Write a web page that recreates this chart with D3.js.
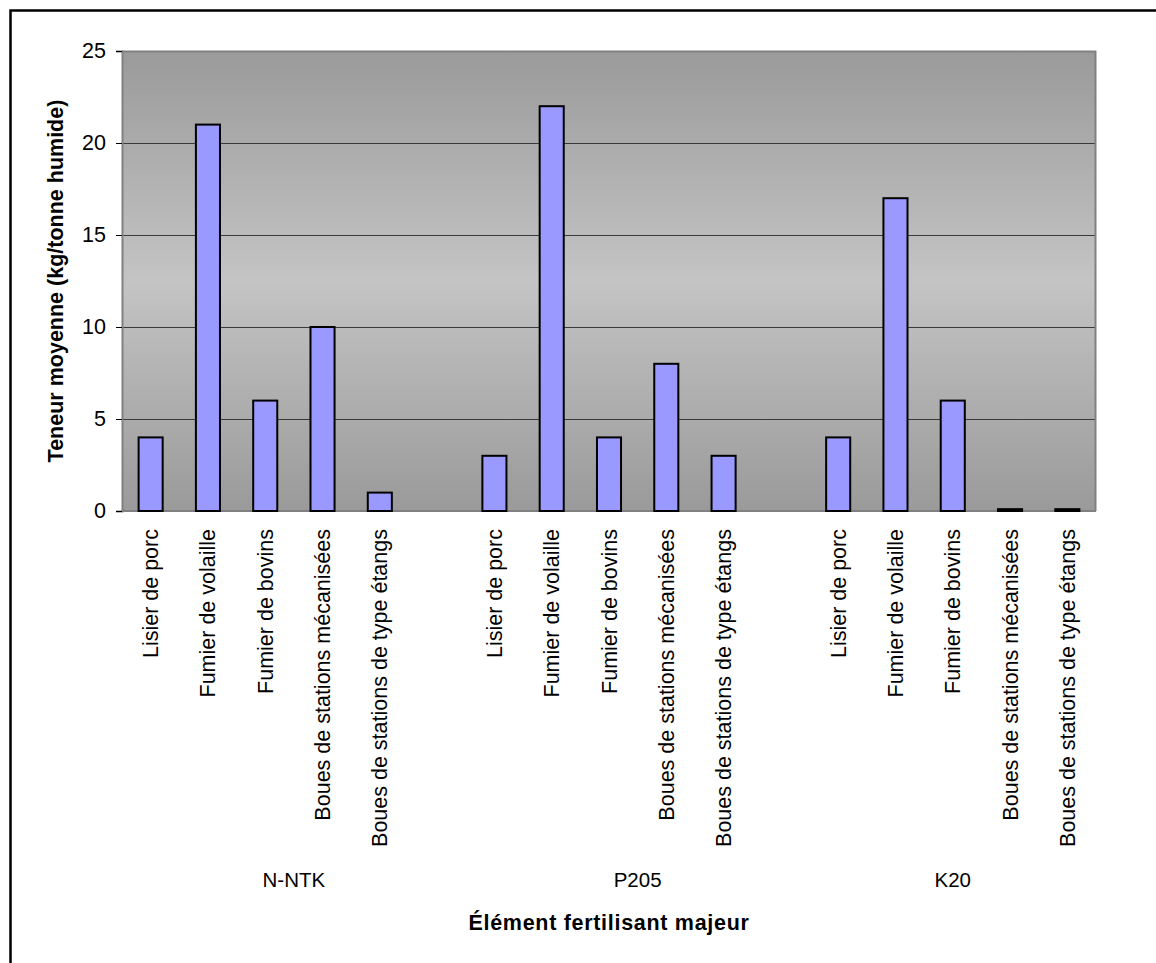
<!DOCTYPE html>
<html>
<head>
<meta charset="utf-8">
<script src="https://cdn.jsdelivr.net/npm/d3@7"></script>
<style>
  html, body { margin: 0; padding: 0; background: #fff; }
  svg { display: block; }
  text { font-family: Arial, "Liberation Sans", sans-serif; fill: #000; }
</style>
</head>
<body>
<svg id="chart" width="1156" height="963"></svg>
<script>
// Fertiliser groups and the sources within each group
const groups = ["N-NTK", "P205", "K20"];
const sources = [
  "Lisier de porc",
  "Fumier de volaille",
  "Fumier de bovins",
  "Boues de stations mécanisées",
  "Boues de stations de type étangs"
];
// Mean content (kg / wet tonne), one array per group, in source order
const valuesNNTK = [4, 21, 6, 10, 1];
const valuesP205 = [3, 22, 4, 8, 3];
const valuesK20  = [4, 17, 6, 0.1, 0.1];
const yTicks = [0, 5, 10, 15, 20, 25];

const yTitle = "Teneur moyenne (kg/tonne humide)";
const xTitle = "Élément fertilisant majeur";

const groupValues = [valuesNNTK, valuesP205, valuesK20];

// Build the slot list: five sources per group, with a blank slot between groups
const slots = [];
const rows = [];
groups.forEach((g, gi) => {
  sources.forEach((s, si) => {
    const key = g + "|" + s;
    slots.push(key);
    rows.push({ key, group: g, source: s, value: groupValues[gi][si] });
  });
  if (gi < groups.length - 1) slots.push(g + "|gap");
});

const svg = d3.select("#chart");
const W = 1156, H = 963;
const plot = { left: 122, right: 1096, top: 51, bottom: 511 };
const FONT = "21.5px";

// Outer frame
svg.append("rect")
  .attr("x", 10.5).attr("y", 10.5)
  .attr("width", W + 10).attr("height", H + 10)
  .attr("fill", "#fff").attr("stroke", "#000").attr("stroke-width", 2.5);

const x = d3.scaleBand().domain(slots).range([plot.left, plot.right]).padding(0);
const y = d3.scaleLinear().domain([0, 25]).range([plot.bottom, plot.top]);

// Plot-area gradient: darker at top and bottom, lighter in the middle
const defs = svg.append("defs");
const grad = defs.append("linearGradient")
  .attr("id", "plotBg").attr("x1", 0).attr("y1", 0).attr("x2", 0).attr("y2", 1);
grad.append("stop").attr("offset", "0%").attr("stop-color", "#9a9a9a");
grad.append("stop").attr("offset", "50%").attr("stop-color", "#c4c4c4");
grad.append("stop").attr("offset", "100%").attr("stop-color", "#9a9a9a");

svg.append("rect")
  .attr("x", plot.left).attr("y", plot.top)
  .attr("width", plot.right - plot.left).attr("height", plot.bottom - plot.top)
  .attr("fill", "url(#plotBg)");

// Horizontal gridlines
svg.append("g").selectAll("line")
  .data(yTicks.filter(t => t > 0 && t < 25))
  .join("line")
  .attr("x1", plot.left).attr("x2", plot.right)
  .attr("y1", d => Math.round(y(d)) + 0.5).attr("y2", d => Math.round(y(d)) + 0.5)
  .attr("stroke", "#3a3a3a").attr("stroke-width", 1);

// Plot border (top & right)
svg.append("path")
  .attr("d", `M${plot.left},${plot.top + 0.5}H${plot.right - 0.5}V${plot.bottom}`)
  .attr("fill", "none").attr("stroke", "#808080").attr("stroke-width", 2);

// X axis line at zero (drawn beneath the bars)
svg.append("line")
  .attr("x1", plot.left).attr("x2", plot.right)
  .attr("y1", y(0)).attr("y2", y(0))
  .attr("stroke", "#808080").attr("stroke-width", 2);

// Y axis
const yAxis = d3.axisLeft(y).tickValues(yTicks).tickSize(6).tickPadding(10);
const gy = svg.append("g").attr("transform", `translate(${plot.left},0)`).call(yAxis);
gy.select(".domain").attr("stroke", "#808080").attr("stroke-width", 2);
gy.selectAll(".tick line").attr("stroke", "#000").attr("stroke-width", 1);
gy.selectAll(".tick text")
  .style("font-family", "Arial, 'Liberation Sans', sans-serif")
  .style("font-size", FONT).attr("fill", "#000");

// Bars
const barW = x.bandwidth() * 0.42;
svg.append("g").selectAll("rect")
  .data(rows)
  .join("rect")
  .attr("x", d => x(d.key) + (x.bandwidth() - barW) / 2)
  .attr("y", d => y(d.value))
  .attr("width", barW)
  .attr("height", d => y(0) - y(d.value))
  .attr("fill", "#9999ff")
  .attr("stroke", "#000")
  .attr("stroke-width", 2);

// Rotated source labels
svg.append("g").selectAll("text")
  .data(rows)
  .join("text")
  .attr("transform", d => `translate(${x(d.key) + x.bandwidth() / 2},${plot.bottom + 18}) rotate(-90)`)
  .attr("text-anchor", "end")
  .attr("dy", "0.35em")
  .style("font-size", FONT)
  .text(d => d.source);

// Group labels, centred on each group's span of slots
svg.append("g").selectAll("text")
  .data(groups)
  .join("text")
  .attr("x", (g, i) => {
    const start = x(g + "|" + sources[0]);
    const end = i < groups.length - 1 ? x(groups[i + 1] + "|" + sources[0]) : plot.right;
    return (start + end) / 2;
  })
  .attr("y", 887)
  .attr("text-anchor", "middle")
  .style("font-size", "20.5px")
  .text(d => d);

// Axis titles
svg.append("text")
  .attr("x", (plot.left + plot.right) / 2)
  .attr("y", 930)
  .attr("text-anchor", "middle")
  .style("font-size", FONT).style("font-weight", "bold")
  .style("letter-spacing", "0.7px")
  .text(xTitle);

svg.append("text")
  .attr("transform", `translate(63,${(plot.top + plot.bottom) / 2}) rotate(-90)`)
  .attr("text-anchor", "middle")
  .style("font-size", FONT).style("font-weight", "bold")
  .text(yTitle);
</script>
</body>
</html>
